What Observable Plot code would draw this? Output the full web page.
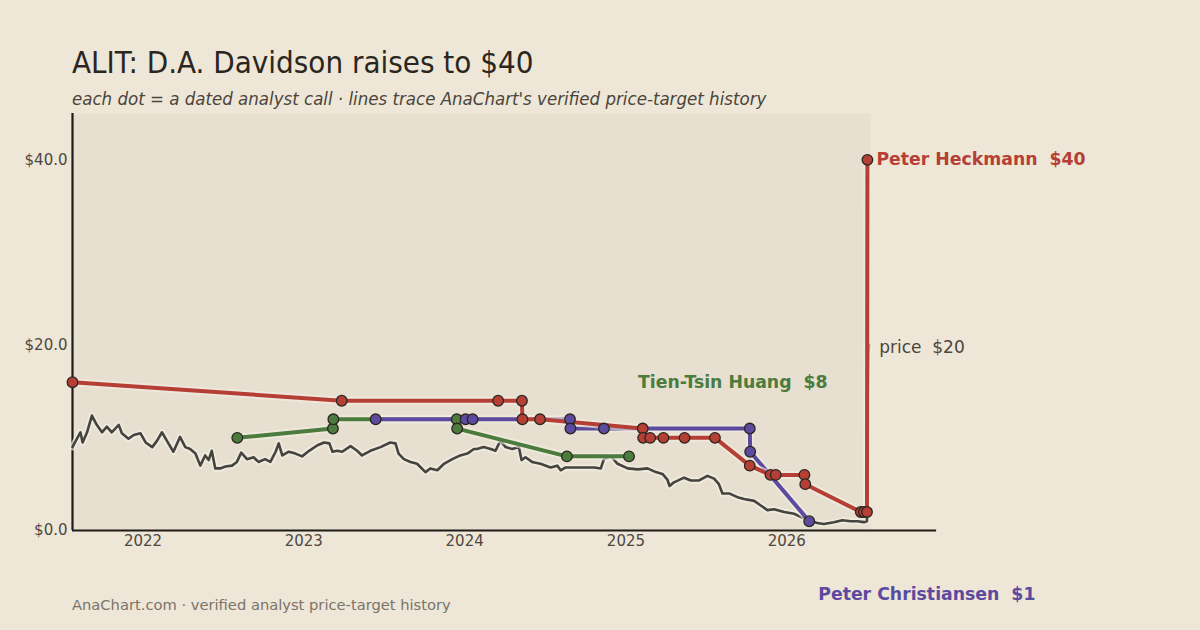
<!DOCTYPE html>
<html>
<head>
<meta charset="utf-8">
<script src="https://cdn.jsdelivr.net/npm/d3@7"></script>
<script src="https://cdn.jsdelivr.net/npm/@observablehq/plot@0.6"></script>
<style>
  html, body { margin: 0; padding: 0; background: #EEE6D6; }
  #wrap { position: relative; width: 1200px; height: 630px; overflow: hidden; font-family: "DejaVu Sans", sans-serif; }
  #chart { position: absolute; left: 0; top: 0; }
  .title { position: absolute; left: 72px; top: 47px; font-size: 31px; line-height: 1; color: #2b2620; white-space: nowrap;
           font-family: "DejaVu Sans Condensed", "DejaVu Sans", sans-serif; font-stretch: condensed; }
  .subtitle { position: absolute; left: 72px; top: 90px; font-size: 18.5px; line-height: 1; font-style: italic; color: #4a443c; white-space: nowrap;
           font-family: "DejaVu Sans Condensed", "DejaVu Sans", sans-serif; font-stretch: condensed; }
  .footer { position: absolute; left: 72px; top: 598px; font-size: 14.7px; line-height: 1; color: #7a746b; white-space: nowrap; }
  svg text { white-space: pre; }
</style>
</head>
<body>
<div id="wrap">
  <div id="chart"></div>
  <div class="title">ALIT: D.A. Davidson raises to $40</div>
  <div class="subtitle">each dot = a dated analyst call · lines trace AnaChart's verified price-target history</div>
  <div class="footer">AnaChart.com · verified analyst price-target history</div>
</div>
<script>
// ---------- data ----------
const priceDates = [
  "2021-07-25","2021-08-04","2021-08-12","2021-08-17","2021-08-27","2021-09-07","2021-09-18","2021-09-30",
  "2021-10-11","2021-10-22","2021-11-07","2021-11-14","2021-11-29","2021-12-11","2021-12-26","2022-01-07",
  "2022-01-22","2022-02-02","2022-02-13","2022-02-24","2022-03-11","2022-03-26","2022-04-07","2022-04-18",
  "2022-04-30","2022-05-11","2022-05-22","2022-05-30","2022-06-06","2022-06-14","2022-06-25","2022-07-07",
  "2022-07-22","2022-08-02","2022-08-12","2022-08-25","2022-09-09","2022-09-20","2022-10-05","2022-10-17",
  "2022-10-29","2022-11-05","2022-11-13","2022-11-28","2022-12-13","2022-12-28","2023-01-13","2023-02-01",
  "2023-02-16","2023-02-28","2023-03-07","2023-03-18","2023-03-29","2023-04-17","2023-05-02","2023-05-13",
  "2023-06-01","2023-06-24","2023-07-16","2023-07-28","2023-08-04","2023-08-16","2023-08-31","2023-09-15",
  "2023-10-04","2023-10-15","2023-10-31","2023-11-15","2023-12-04","2023-12-22","2024-01-07","2024-01-22",
  "2024-01-29","2024-02-13","2024-02-29","2024-03-11","2024-03-22","2024-04-03","2024-04-18","2024-05-03",
  "2024-05-09","2024-05-18","2024-06-02","2024-06-21","2024-07-14","2024-07-29","2024-08-06","2024-08-17",
  "2024-09-05","2024-09-28","2024-10-21","2024-11-05","2024-11-12","2024-11-28","2024-12-13","2025-01-05",
  "2025-01-28","2025-02-19","2025-03-10","2025-03-25","2025-04-05","2025-04-10","2025-04-20","2025-05-13",
  "2025-05-28","2025-06-16","2025-07-05","2025-07-20","2025-07-31","2025-08-08","2025-08-23","2025-09-11",
  "2025-09-26","2025-10-19","2025-11-03","2025-11-18","2025-12-03","2025-12-26","2026-01-18","2026-02-05",
  "2026-02-24","2026-03-11","2026-03-26","2026-04-18","2026-05-07","2026-05-26","2026-06-10","2026-06-25",
  "2026-07-02","2026-07-03","2026-07-05","2026-07-07"
];
const priceValues = [
  9.0, 9.9, 10.6, 9.5, 10.6, 12.4, 11.4, 10.6,
  11.2, 10.6, 11.4, 10.5, 9.9, 10.3, 10.5, 9.5,
  9.0, 9.7, 10.6, 9.7, 8.5, 10.1, 9.0, 8.8,
  8.3, 7.0, 8.1, 7.6, 8.6, 6.7, 6.7, 6.9,
  7.0, 7.4, 8.4, 7.7, 7.9, 7.4, 7.7, 7.4,
  8.5, 9.4, 8.1, 8.5, 8.3, 8.0, 8.6, 9.2,
  9.5, 9.4, 8.5, 8.6, 8.5, 9.1, 8.6, 8.1,
  8.6, 9.0, 9.5, 9.4, 8.3, 7.7, 7.4, 7.2,
  6.3, 6.7, 6.5, 7.2, 7.7, 8.1, 8.3, 8.8,
  8.8, 9.0, 8.8, 8.6, 9.7, 9.0, 8.8, 9.0,
  7.6, 7.9, 7.4, 7.2, 6.8, 7.0, 6.5, 6.8,
  6.8, 6.8, 6.8, 6.7, 7.7, 8.0, 7.2, 6.7,
  6.6, 6.7, 6.3, 6.1, 5.5, 4.8, 5.2, 5.7,
  5.4, 5.4, 5.9, 5.6, 5.0, 4.0, 4.0, 3.6,
  3.4, 3.2, 2.7, 2.2, 2.3, 2.0, 1.8, 1.4,
  1.1, 0.8, 0.7, 0.9, 1.1, 1.0, 1.0, 0.9,
  1.0, 12.0, 19.0, 20.0
];

const analysts = ["Tien-Tsin Huang", "Peter Christiansen", "Peter Heckmann"];
const analystColors = ["#4B7B3D", "#5C4A9F", "#B63F35"];

const huangDates   = ["2022-08-03","2023-03-08","2023-03-09","2023-12-14","2023-12-15","2024-08-20","2025-01-08"];
const huangTargets = [10, 11, 12, 12, 11, 8, 8];

const christiansenDates   = ["2023-06-13","2024-01-03","2024-01-19","2024-08-27","2024-08-28","2024-11-12","2025-10-09","2025-10-10","2026-02-21"];
const christiansenTargets = [12, 12, 12, 12, 11, 11, 11, 8.5, 1];

const heckmannDates   = ["2021-07-25","2023-03-28","2024-03-17","2024-05-10","2024-05-11","2024-06-20","2025-02-08","2025-02-09",
                         "2025-02-25","2025-03-27","2025-05-14","2025-07-22","2025-10-09","2025-11-25","2025-12-07","2026-02-10",
                         "2026-02-12","2026-06-18","2026-06-25","2026-07-02","2026-07-03"];
const heckmannTargets = [16, 14, 14, 14, 12, 12, 11, 10, 10, 10, 10, 10, 7, 6, 6, 6, 5, 2, 2, 2, 40];

const yTicks = [0, 20, 40];
const xTickYears = ["2022-01-01","2023-01-01","2024-01-01","2025-01-01","2026-01-01"];

// ---------- build tables ----------
const parse = d3.utcParse("%Y-%m-%d");
const price = priceDates.map((d, i) => ({date: parse(d), value: priceValues[i]}));
const series = [
  {name: analysts[0], dates: huangDates, targets: huangTargets, color: analystColors[0]},
  {name: analysts[1], dates: christiansenDates, targets: christiansenTargets, color: analystColors[1]},
  {name: analysts[2], dates: heckmannDates, targets: heckmannTargets, color: analystColors[2]}
].map(s => ({...s, rows: s.dates.map((d, i) => ({analyst: s.name, date: parse(d), target: s.targets[i]}))}));

const xStart = parse("2021-07-25"), xEnd = parse("2026-07-10"), axisEnd = parse("2026-12-07");
const lastOf = s => s.rows[s.rows.length - 1];
const lastPrice = price[price.length - 1];

const halo = "#F4EEE3";
const marks = [
  Plot.frame({fill: "#E7DFCF", stroke: null}),
  Plot.ruleX([xStart], {y1: 0, y2: 45, stroke: "#1f1b17", strokeWidth: 2.2}),
  Plot.ruleY([0], {x1: xStart, x2: axisEnd, stroke: "#1f1b17", strokeWidth: 2.2}),
  Plot.line(price, {x: "date", y: "value", stroke: halo, strokeWidth: 6.5, strokeOpacity: 0.7}),
  Plot.line(price, {x: "date", y: "value", stroke: "#454340", strokeWidth: 2.6})
];
for (const s of series) {
  marks.push(Plot.line(s.rows, {x: "date", y: "target", stroke: halo, strokeWidth: 8, strokeOpacity: 0.6}));
  marks.push(Plot.line(s.rows, {x: "date", y: "target", stroke: s.color, strokeWidth: 4}));
}
for (const s of series) {
  marks.push(Plot.dot(s.rows, {x: "date", y: "target", r: 5.3, fill: s.color, stroke: "#2a2622", strokeWidth: 1.3}));
}
// end labels, shifted vertically apart
const labelShift = {"Peter Heckmann": 0, "Tien-Tsin Huang": -74, "Peter Christiansen": 73};
for (const s of series) {
  const l = lastOf(s);
  marks.push(Plot.text([l], {x: "date", y: "target", text: d => `${s.name}  $${Math.round(d.target)}`,
    fill: s.color, fontWeight: "bold", fontSize: 17.3, textAnchor: "start", dx: 9, dy: labelShift[s.name]}));
}
marks.push(Plot.text([lastPrice], {x: "date", y: "value", text: d => `price  $${Math.round(d.value)}`,
  fill: "#4a4540", fontSize: 17, textAnchor: "start", dx: 10, dy: 2}));

const chart = Plot.plot({
  width: 1200, height: 630,
  marginLeft: 72, marginRight: 330, marginTop: 113, marginBottom: 100,
  style: {background: "transparent", fontFamily: "DejaVu Sans, sans-serif", fontSize: "15px", color: "#4d4842", overflow: "visible"},
  x: {type: "utc", domain: [xStart, xEnd], ticks: xTickYears.map(parse), tickFormat: d3.utcFormat("%Y"), tickSize: 0, tickPadding: 5, label: null},
  y: {domain: [0, 45], ticks: yTicks, tickFormat: d => "$" + d.toFixed(1), tickSize: 0, tickPadding: 5, label: null},
  marks
});
document.getElementById("chart").appendChild(chart);
</script>
</body>
</html>
